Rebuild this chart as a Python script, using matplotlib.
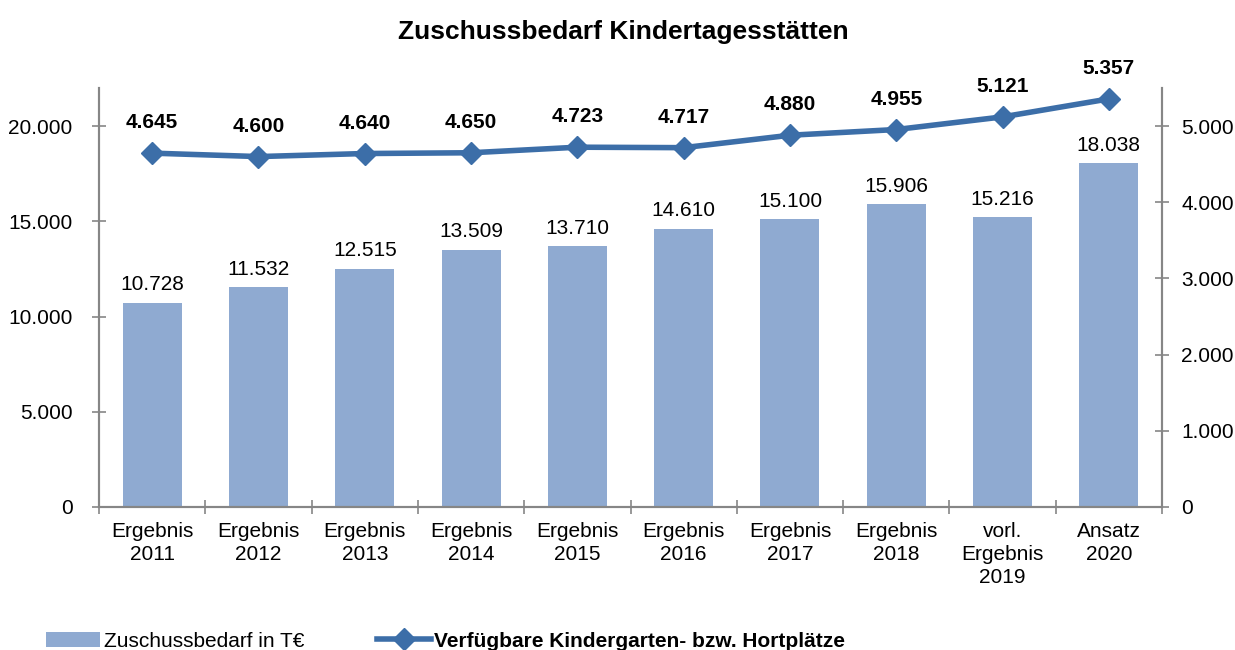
import matplotlib.pyplot as plt
import numpy as np

plt.rcParams['font.family'] = ['Liberation Sans', 'DejaVu Sans']

categories = ["Ergebnis\n2011", "Ergebnis\n2012", "Ergebnis\n2013", "Ergebnis\n2014",
              "Ergebnis\n2015", "Ergebnis\n2016", "Ergebnis\n2017", "Ergebnis\n2018",
              "vorl.\nErgebnis\n2019", "Ansatz\n2020"]
zuschuss = [10728, 11532, 12515, 13509, 13710, 14610, 15100, 15906, 15216, 18038]
plaetze = [4645, 4600, 4640, 4650, 4723, 4717, 4880, 4955, 5121, 5357]


def de_fmt(v):
    return f"{v:,.0f}".replace(",", ".")


bar_color = "#8FAAD1"
line_color = "#3C6EA8"
axis_color = "#868686"

fig = plt.figure(figsize=(12.35, 6.5), dpi=100)
ax = fig.add_axes([0.0802, 0.22, 0.8607, 0.6446])
ax2 = ax.twinx()

x = np.arange(len(categories))
bars = ax.bar(x, zuschuss, width=0.555, color=bar_color, label="Zuschussbedarf in T€", zorder=2)
ax.set_xlim(-0.5, len(categories) - 0.5)
ax.set_ylim(0, 22000)
ax.set_yticks([0, 5000, 10000, 15000, 20000])
ax.set_yticklabels([de_fmt(v) for v in [0, 5000, 10000, 15000, 20000]])
ax.set_xticks(x)
ax.set_xticklabels(categories, va="top", linespacing=1.25)
ax.tick_params(axis="x", length=0, pad=11, labelsize=15)
ax.set_xticks(np.arange(-0.5, len(categories)), minor=True)
ax.tick_params(axis="x", which="minor", direction="inout", length=10, color=axis_color, width=1.2)
ax.tick_params(axis="y", direction="inout", length=10, color=axis_color, width=1.2, labelsize=15, pad=14)

for b, v in zip(bars, zuschuss):
    ax.annotate(de_fmt(v), (b.get_x() + b.get_width() / 2, v), xytext=(0, 6),
                textcoords="offset points", ha="center", va="bottom", fontsize=15)

line, = ax2.plot(x, plaetze, color=line_color, lw=4, marker="D", markersize=11,
                 label="Verfügbare Kindergarten- bzw. Hortplätze", zorder=3)
ax2.set_ylim(0, 5500)
ax2.set_yticks([0, 1000, 2000, 3000, 4000, 5000])
ax2.set_yticklabels([de_fmt(v) for v in [0, 1000, 2000, 3000, 4000, 5000]])
ax2.tick_params(axis="y", direction="inout", length=10, color=axis_color, width=1.2, labelsize=15, pad=9)

for xi, v in zip(x, plaetze):
    ax2.annotate(de_fmt(v), (xi, v), xytext=(0, 15), textcoords="offset points",
                 ha="center", va="bottom", fontsize=15, fontweight="bold")

for a in (ax, ax2):
    a.spines["top"].set_visible(False)
    for s in ("left", "right", "bottom"):
        a.spines[s].set_color(axis_color)
        a.spines[s].set_linewidth(1.5)

fig.suptitle("Zuschussbedarf Kindertagesstätten", x=0.505, y=0.97, fontsize=19, fontweight="bold")

leg = fig.legend(handles=[bars, line], loc="lower left", bbox_to_anchor=(0.0223, -0.03), ncol=2,
                 frameon=False, fontsize=15, handlelength=2.6, columnspacing=3.5, handletextpad=0.15)
leg.get_texts()[1].set_fontweight("bold")

fig.savefig("out.png", dpi=100)
